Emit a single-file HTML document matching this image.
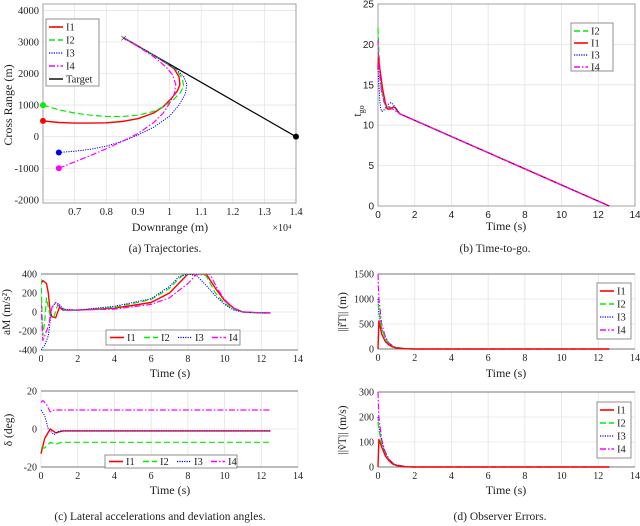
<!DOCTYPE html>
<html><head><meta charset="utf-8"><style>
body{margin:0;background:#fff;width:640px;height:526px;overflow:hidden}
svg{display:block}
text{font-family:"Liberation Serif",serif;fill:#222}
.sans{font-family:"Liberation Sans",sans-serif}
</style></head><body>
<svg id="fig" width="640" height="526" viewBox="0 0 640 526" xmlns="http://www.w3.org/2000/svg"></svg>
<script>
// ---- data (a) trajectories ----
const i1X=[6000,6500,7000,7500,8000,8500,9000,9500,9800,10050,10250,10330,10300,10150,9900,9500,9000,8550];
const i1Y=[500,450,430,430,440,480,570,750,950,1200,1450,1650,1900,2150,2330,2580,2870,3130];
const i2X=[6000,6500,7000,7500,8000,8500,9000,9500,9800,10100,10350,10450,10400,10200,9900,9500,9000,8550];
const i2Y=[1000,850,750,680,640,640,680,800,950,1150,1400,1600,1850,2150,2330,2580,2870,3130];
const i3X=[6500,7000,7500,8000,8500,9000,9500,10000,10300,10500,10550,10450,10200,9900,9500,9000,8550];
const i3Y=[-500,-460,-400,-300,-150,50,300,650,1000,1350,1650,1900,2150,2330,2580,2870,3130];
const i4X=[6500,7000,7500,8000,8500,9000,9500,9800,10000,10150,10200,10100,9900,9500,9000,8550];
const i4Y=[-1000,-800,-600,-380,-150,100,450,750,1050,1350,1650,1950,2200,2530,2850,3130];
const tgX=[8550,14000];
const tgY=[3130,0];
const aXTicks=[0.7,0.8,0.9,1,1.1,1.2,1.3,1.4];
const aYTicks=[-2000,-1000,0,1000,2000,3000,4000];
// ---- data (b) time-to-go ----
const b1T=[0,0.02,0.1,0.25,0.4,0.5,0.7,0.85,1.0,1.1,1.2,12.6];
const b1V=[17,18.5,17,14.5,12.8,12,12,12.3,12,11.6,11.4,0];
const b2T=[0,0.05,0.15,0.3,0.45,0.6,0.8,1.0,1.2,12.6];
const b2V=[22,19,15,13,12.2,12.3,12.1,11.9,11.4,0];
const b3T=[0,0.1,0.15,0.2,0.3,0.5,0.7,0.85,1.0,1.2,12.6];
const b3V=[17,13,12,11.7,11.8,12.5,12.8,12.5,12,11.4,0];
const b4T=[0,0.05,0.2,0.4,0.6,0.8,1.0,1.2,12.6];
const b4V=[20.5,17,14,12.5,12.2,12,11.7,11.4,0];
const tTicks=[0,2,4,6,8,10,12,14];
const bYTicks=[0,5,10,15,20,25];
// ---- data (c) accelerations ----
const c1T=[0,0.1,0.3,0.4,0.5,0.6,0.8,1,1.2,2,4,6,7,7.5,8,8.3,8.6,9,9.5,10,10.5,11,12,12.5];
const c1V=[300,330,300,200,0,-50,-60,50,20,20,40,100,200,300,400,400,400,400,250,120,40,0,-10,-10];
const c2T=[0,0.1,0.2,0.3,0.4,0.5,0.7,0.9,1.1,1.3,2,4,6,7,7.5,7.8,8,8.5,9,9.5,10,10.5,11,12,12.5];
const c2V=[350,-250,-100,150,50,-40,-50,70,60,20,20,50,130,250,350,400,400,400,380,200,90,30,0,-10,-10];
const c3T=[0,0.2,0.4,0.6,0.8,1,1.2,2,4,6,7,7.5,8,8.5,9,9.5,10,10.5,11,12,12.5];
const c3V=[-400,-350,-250,50,100,80,30,20,60,140,270,370,400,380,280,170,80,20,0,-10,-10];
const c4T=[0,0.1,0.2,0.4,0.6,0.8,1,1.2,2,4,6,7,8,8.5,8.8,9.2,9.6,10,10.5,11,12,12.5];
const c4V=[100,-300,-250,-150,50,100,60,20,20,30,80,150,300,400,400,400,250,130,40,0,-10,-10];
const cYTicks=[-400,-200,0,200,400];
// ---- data (c) deviation ----
const d1T=[0,0.2,0.5,0.8,1.2,12.5];
const d1V=[-13,-5,0,-2,-1,-1];
const d2T=[0,0.2,0.5,0.8,1.1,12.5];
const d2V=[-10,-10,-7,-8,-7,-7];
const d3T=[0,0.2,0.4,0.7,1.0,12.5];
const d3V=[10,7,0,-3,-1,-1];
const d4T=[0,0.1,0.3,0.5,0.7,12.5];
const d4V=[14,15,13,9,10,10];
const dYTicks=[-20,0,20];
// ---- data (d) observer errors ----
const eT=[0,0.05,0.2,0.4,0.6,0.8,1,1.5,2,12.6];
const r1V=[0,560,300,150,80,40,20,5,0,0];
const r2V=[900,800,420,200,100,50,25,6,0,0];
const r3V=[1000,700,400,220,110,55,28,7,0,0];
const r4V=[1500,1000,500,250,120,60,30,8,0,0];
const v1V=[0,110,80,45,25,12,6,1,0,0];
const v2V=[180,150,90,50,28,14,7,1,0,0];
const v3V=[200,160,100,55,30,15,8,2,0,0];
const v4V=[300,200,110,60,32,16,8,2,0,0];
const rYTicks=[0,500,1000,1500];
const vYTicks=[0,100,200,300];

const NS="http://www.w3.org/2000/svg";
const svg=document.getElementById('fig');
function mk(tag,attrs,parent){const e=document.createElementNS(NS,tag);for(const k in attrs)e.setAttribute(k,attrs[k]);(parent||svg).appendChild(e);return e;}
function txt(s,x,y,size,anchor,parent,cls){const t=mk('text',{x:x,y:y,'font-size':size,'text-anchor':anchor||'middle'},parent);if(cls)t.setAttribute('class',cls);t.textContent=s;return t;}
const STY={I1:{c:'#ff0000',d:'',w:1.4},I2:{c:'#00ee00',d:'6,3',w:1.2},I3:{c:'#0000ff',d:'1.2,1.2',w:1},I4:{c:'#ff00ff',d:'6,2,1.5,2',w:1.2},Target:{c:'#000',d:'',w:1.2}};
function axis(p){
  const sx=v=>p.x0+(v-p.xmin)/(p.xmax-p.xmin)*(p.x1-p.x0);
  const sy=v=>p.y1-(v-p.ymin)/(p.ymax-p.ymin)*(p.y1-p.y0);
  const g=mk('g',{});
  
  
  p.xt.forEach(v=>{mk('line',{x1:sx(v),x2:sx(v),y1:p.y0,y2:p.y1,stroke:'#e4e4e4','stroke-width':0.8},g);
    const t=txt(p.xf?p.xf(v):v,sx(v),p.y1+12,p.fs||10.5,'middle',g,p.cls);});
  p.yt.forEach(v=>{mk('line',{x1:p.x0,x2:p.x1,y1:sy(v),y2:sy(v),stroke:'#e4e4e4','stroke-width':0.8},g);
    const t=txt(v,p.x0-4,sy(v)+3.5,p.fs||10.5,'end',g,p.cls);});
  if(p.box) mk('rect',{x:p.x0,y:p.y0,width:p.x1-p.x0,height:p.y1-p.y0,fill:'none',stroke:'#999','stroke-width':0.9},g);
  else {mk('line',{x1:p.x0,x2:p.x1,y1:p.y0,y2:p.y0,stroke:'#777','stroke-width':0.9},g);mk('line',{x1:p.x0,x2:p.x1,y1:p.y1,y2:p.y1,stroke:'#777','stroke-width':0.9},g);}
  return {sx,sy,g};
}
function series(a,xs,ys,key,name,clipId){
  const s=STY[key];
  const pts=xs.map((x,i)=>a.sx(x).toFixed(1)+','+a.sy(ys[i]).toFixed(1)).join(' ');
  const e=mk('polyline',{points:pts,fill:'none',stroke:s.c,'stroke-width':s.w,'stroke-dasharray':s.d,'stroke-linejoin':'round'},a.g);
  if(clipId)e.setAttribute('clip-path','url(#'+clipId+')');
  
  
}
function legend(x,y,w,h,keys,dy,horiz){
  const g=mk('g',{});
  
  
  mk('rect',{x:x,y:y,width:w,height:h,fill:'#fff',stroke:'#777','stroke-width':0.8},g);
  keys.forEach((k,i)=>{const s=STY[k];
    const lx=horiz?x+4+i*34:x+3, ly=horiz?y+h/2:y+8+i*dy;
    mk('line',{x1:lx,x2:lx+14,y1:ly,y2:ly,stroke:s.c,'stroke-width':s.w+0.2,'stroke-dasharray':s.d},g);
    const t=txt(k,lx+17,ly+3.5,10.5,'start',g);});
}
const defs=mk('defs',{});
function clip(id,x,y,w,h){const c=mk('clipPath',{id:id},defs);mk('rect',{x:x,y:y,width:w,height:h},c);}

// (a)
const A=axis({name:'trajectories-plot',x0:43,x1:296,y0:4,y1:203,xmin:6000,xmax:14000,ymin:-2100,ymax:4200,xt:aXTicks.map(v=>v*1e4),yt:aYTicks,xf:v=>String(+(v/1e4).toFixed(1)),box:true});
series(A,tgX,tgY,'Target','target-line');
series(A,i1X,i1Y,'I1','i1-trajectory');series(A,i2X,i2Y,'I2','i2-trajectory');series(A,i3X,i3Y,'I3','i3-trajectory');series(A,i4X,i4Y,'I4','i4-trajectory');
[[i1X,i1Y,'#ff0000'],[i2X,i2Y,'#00ee00'],[i3X,i3Y,'#0000ff'],[i4X,i4Y,'#ff00ff'],[[14000],[0],'#000']].forEach(d=>mk('circle',{cx:A.sx(d[0][0]),cy:A.sy(d[1][0]),r:3,fill:d[2]},A.g));
txt('×',A.sx(8550),A.sy(3130)+4,12,'middle',A.g);
legend(46,19,53,67,['I1','I2','I3','I4','Target'],13);
txt('Cross Range (m)',0,0,12,'middle').setAttribute('transform','translate(12,105) rotate(-90)');
txt('Downrange (m)',170,231,12);
txt('×10⁴',282,231,10);
txt('(a) Trajectories.',165,252,11.5);

// (b)
const B=axis({name:'time-to-go-plot',x0:378,x1:635,y0:4,y1:206,xmin:0,xmax:14,ymin:0,ymax:25,xt:tTicks,yt:bYTicks,box:true,cls:'sans',fs:10});
series(B,b2T,b2V,'I2','i2-tgo');series(B,b1T,b1V,'I1','i1-tgo');series(B,b3T,b3V,'I3','i3-tgo');series(B,b4T,b4V,'I4','i4-tgo');
legend(571,23,42,48,['I2','I1','I3','I4'],12);
const tl=mk('text',{x:0,y:0,'font-size':12,'text-anchor':'middle',transform:'translate(361,111) rotate(-90)'});


tl.innerHTML='t<tspan font-size="8" dy="3">go</tspan>';
txt('Time (s)',506,230,12);
txt('(b) Time-to-go.',495,252,11.5);

// (c) top
clip('cc1',41,274,257,76);
const C1=axis({name:'acceleration-plot',x0:41,x1:298,y0:274,y1:350,xmin:0,xmax:14,ymin:-400,ymax:400,xt:tTicks,yt:cYTicks,box:false,fs:10});
series(C1,c1T,c1V,'I1','i1-accel','cc1');series(C1,c2T,c2V,'I2','i2-accel','cc1');series(C1,c3T,c3V,'I3','i3-accel','cc1');series(C1,c4T,c4V,'I4','i4-accel','cc1');
legend(106,330,134,15,['I1','I2','I3','I4'],0,true);
txt('aM (m/s²)',0,0,11.5,'middle').setAttribute('transform','translate(10,312) rotate(-90)');
txt('Time (s)',170,377,12);
// (c) bottom
const C2=axis({name:'deviation-angle-plot',x0:41,x1:298,y0:391,y1:467,xmin:0,xmax:14,ymin:-20,ymax:20,xt:tTicks,yt:dYTicks,box:false,fs:10});
series(C2,d1T,d1V,'I1','i1-delta');series(C2,d2T,d2V,'I2','i2-delta');series(C2,d3T,d3V,'I3','i3-delta');series(C2,d4T,d4V,'I4','i4-delta');
legend(105,455,132,13,['I1','I2','I3','I4'],0,true);
txt('δ (deg)',0,0,11.5,'middle').setAttribute('transform','translate(12,430) rotate(-90)');
txt('Time (s)',170,494,12);
txt('(c) Lateral accelerations and deviation angles.',160,520,11.5);

// (d) top
const D1=axis({name:'position-error-plot',x0:378,x1:635,y0:274,y1:349,xmin:0,xmax:14,ymin:0,ymax:1500,xt:tTicks,yt:rYTicks,box:false,fs:10});
series(D1,eT,r4V,'I4','i4-pos-err');series(D1,eT,r3V,'I3','i3-pos-err');series(D1,eT,r2V,'I2','i2-pos-err');series(D1,eT,r1V,'I1','i1-pos-err');
legend(597,283,34,56,['I1','I2','I3','I4'],13);
txt('||r̃T|| (m)',0,0,11.5,'middle').setAttribute('transform','translate(346,312) rotate(-90)');
txt('Time (s)',506,377,12);
// (d) bottom
const D2=axis({name:'velocity-error-plot',x0:378,x1:635,y0:392,y1:467,xmin:0,xmax:14,ymin:0,ymax:300,xt:tTicks,yt:vYTicks,box:false,fs:10});
series(D2,eT,v4V,'I4','i4-vel-err');series(D2,eT,v3V,'I3','i3-vel-err');series(D2,eT,v2V,'I2','i2-vel-err');series(D2,eT,v1V,'I1','i1-vel-err');
legend(597,402,34,56,['I1','I2','I3','I4'],13);
txt('||ṽT|| (m/s)',0,0,11.5,'middle').setAttribute('transform','translate(346,430) rotate(-90)');
txt('Time (s)',506,494,12);
txt('(d) Observer Errors.',500,520,11.5);
</script>
</body></html>
